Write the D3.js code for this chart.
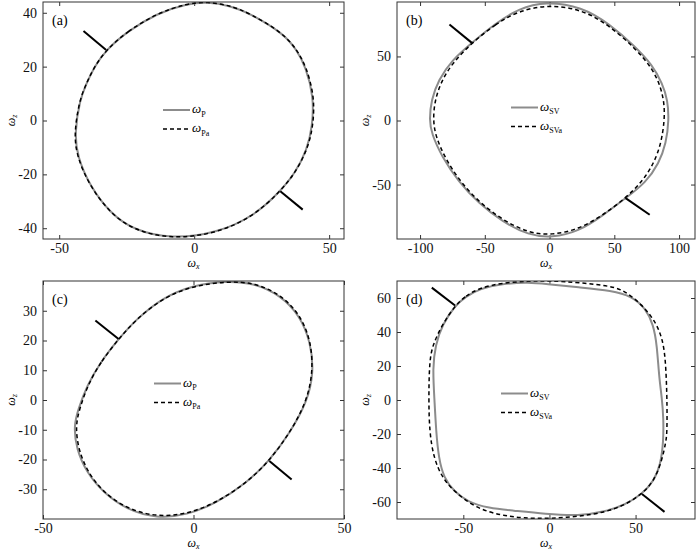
<!DOCTYPE html>
<html>
<head>
<meta charset="utf-8">
<script src="https://cdn.jsdelivr.net/npm/d3@7"></script>
<style>
  body { margin: 0; background: #fff; }
  svg text { font-family: 'Liberation Serif', 'Times New Roman', serif; }
</style>
</head>
<body>
<div id="container"></div>
<script>
const w = 700
const h = 552

// panel (a): omega_P vs omega_Pa
const aLimX = [-56, 55.5]
const aLimY = [-44, 44]
const aTicksX = [-50, 0, 50]
const aTicksY = [-40, -20, 0, 20, 40]
const aP = [[-32.6, 26.2], [-24.9, 33], [-13.8, 39.8], [-2.7, 43.4], [5, 44], [13, 42.7], [20.7, 39.8], [33.1, 32.3], [38, 26.2], [41.3, 20], [44.3, 8.9], [43.8, -2.2], [41.8, -10.9], [37.4, -19.5], [31.9, -26.3], [22, -35.6], [8.4, -41.8], [-8.3, -44], [-22.5, -40.7], [-31.1, -34.4], [-38.6, -24.4], [-43.3, -13.3], [-44.3, -4.7], [-42.4, 7.6], [-39.9, 13.8], [-37, 20]]
const aPa = [[-32.6, 26.2], [-24.9, 33], [-13.8, 39.8], [-2.7, 43.5], [5, 44.1], [13, 42.8], [20.7, 39.8], [33.1, 32.3], [38.1, 26.2], [41.5, 20], [44.6, 8.9], [44.1, -2.2], [41.9, -10.9], [37.4, -19.5], [31.9, -26.3], [22, -35.6], [8.4, -41.9], [-8.3, -44.1], [-22.5, -40.7], [-31.1, -34.4], [-38.7, -24.4], [-43.5, -13.3], [-44.5, -4.7], [-42.5, 7.6], [-39.9, 13.8], [-37, 20]]
const aMarks = [[[-41, 33.2], [-32.6, 26.2]], [[31.9, -26.3], [40.2, -33.1]]]

// panel (b): omega_SV vs omega_SVa
const bLimX = [-117.8, 112.3]
const bLimY = [-92.5, 92.5]
const bTicksX = [-100, -50, 0, 50, 100]
const bTicksY = [-50, 0, 50]
const bSV = [[-60, 60.6], [-41.9, 75.7], [-23.9, 87.4], [-3.3, 93], [25.1, 88.7], [45.8, 75.7], [66.4, 57.5], [79.4, 43.2], [87.1, 29], [91.2, 16], [92.2, 0.4], [90, -17.8], [84.5, -33.4], [74.2, -48.6], [58.7, -60.6], [40.6, -74.6], [22.5, -86.6], [1.9, -91.5], [-16.2, -89.6], [-36.8, -78.8], [-54.9, -64.5], [-70.3, -47.7], [-83.2, -28.2], [-91.2, -10], [-92.8, 0.4], [-91.4, 16], [-85.8, 31.6], [-75.5, 47.1]]
const bSVa = [[-60, 60.6], [-41.9, 75.2], [-23.9, 85.6], [-0.7, 90.5], [25.1, 86.6], [45.8, 74.4], [66.4, 56.2], [79.4, 40.6], [85.8, 26.4], [88.6, 13.4], [88.8, 0.4], [86.2, -17.8], [80.6, -33.4], [71.6, -47.7], [58.7, -60.6], [40.6, -74.4], [22.5, -84.8], [1.9, -89.6], [-16.2, -87.8], [-36.8, -77.5], [-54.9, -63.2], [-69, -47.7], [-80.6, -29.5], [-87.9, -12.6], [-90, 0.4], [-88.6, 16], [-83.2, 31.6], [-74.2, 45.8]]
const bMarks = [[[-77.3, 74.9], [-60, 60.6]], [[58.7, -60.6], [77.3, -73.6]]]

// panel (c): omega_P vs omega_Pa
const cLimX = [-50, 50]
const cLimY = [-40, 40]
const cTicksX = [-50, 0, 50]
const cTicksY = [-30, -20, -10, 0, 10, 20, 30]
const cP = [[-24.9, 20.5], [-31, 12.6], [-35.4, 4.8], [-38.3, -3.1], [-39.8, -8.7], [-38.9, -16.5], [-35.5, -24.4], [-29.9, -31.2], [-22.1, -36.9], [-12.2, -39.8], [-2.2, -38.7], [7.7, -34.6], [17.7, -27.8], [25.2, -20.5], [32.1, -10.9], [37.7, -0.8], [40, 9.3], [38.9, 19.4], [35.4, 28.3], [28.8, 35.3], [19.9, 39.4], [10.5, 40], [0, 38.6], [-10, 34.6], [-19.2, 27]]
const cPa = [[-24.9, 20.5], [-31, 12.6], [-35.2, 4.8], [-37.9, -3.1], [-39.2, -8.7], [-38.3, -16.5], [-35.1, -24.4], [-29.9, -31.1], [-22.1, -36.6], [-12.2, -39.3], [-2.2, -38.4], [7.7, -34.5], [17.7, -27.8], [25.2, -20.5], [32.1, -10.9], [37.5, -0.8], [39.7, 9.3], [39.1, 19.4], [35.7, 28.3], [29.2, 35.3], [20.5, 39.4], [11.5, 39.9], [0, 38.4], [-10, 34.5], [-19.2, 27]]
const cMarks = [[[-32.6, 26.7], [-24.9, 20.5]], [[25.2, -20.5], [32.6, -26.7]]]

// panel (d): omega_SV vs omega_SVa
const dLimX = [-88.5, 84.5]
const dLimY = [-70, 70]
const dTicksX = [-50, 0, 50]
const dTicksY = [-60, -40, -20, 0, 20, 40, 60]
const dSV = [[-54.8, 55.6], [-48.6, 60.8], [-40.9, 65.3], [-27.4, 68.5], [-12, 69.2], [-2.3, 68.3], [17, 66.3], [36.3, 64.4], [47.9, 61], [55.6, 54.2], [60.4, 44.2], [62.4, 32.4], [63.7, 12.9], [65.3, 1.1], [66.2, -10.6], [66.2, -24.3], [64.5, -38.1], [60.6, -47.8], [53.7, -55.3], [44, -61.7], [32.4, -65.7], [17, -68.2], [-2.3, -67], [-21.6, -65], [-35.1, -63.7], [-47.7, -59.8], [-55.4, -53.7], [-61.3, -45.9], [-64.3, -34.1], [-65.8, -18.4], [-66.8, 1.1], [-67.8, 18.7], [-66.2, 32.4], [-62.3, 44.2]]
const dSVa = [[-54.8, 55.6], [-48.6, 61.2], [-40.9, 65.8], [-27.4, 69], [-12, 69.9], [0, 70.2], [17, 69.1], [36.3, 67], [44, 64], [53.7, 56.1], [61.4, 46.4], [65.5, 36.4], [67.4, 24.6], [68.3, 1.1], [68.3, -18.4], [67.7, -24.3], [65.2, -36], [60.6, -47.8], [53.7, -55.3], [44, -61.7], [32.4, -66], [17, -68.5], [0, -69.8], [-15, -69.5], [-27.4, -68], [-42.8, -63.7], [-55.4, -53.7], [-62.2, -45.9], [-67.2, -34.1], [-69.7, -18.4], [-70.1, 1.1], [-69.7, 22.7], [-67.8, 32.4], [-62.3, 44.2]]
const dMarks = [[[-68.3, 66.1], [-54.8, 55.6]], [[53.7, -55.3], [66.8, -65.8]]]

const panels = [
  { tag: '(a)', box: [43, 2, 344, 239], limX: aLimX, limY: aLimY, ticksX: aTicksX, ticksY: aTicksY, solid: aP, dashed: aPa, marks: aMarks, names: ['P', 'Pa'], leg: [120, 108] },
  { tag: '(b)', box: [397, 2, 695, 239], limX: bLimX, limY: bLimY, ticksX: bTicksX, ticksY: bTicksY, solid: bSV, dashed: bSVa, marks: bMarks, names: ['SV', 'SVa'], leg: [114, 105.5] },
  { tag: '(c)', box: [43, 281, 344, 519], limX: cLimX, limY: cLimY, ticksX: cTicksX, ticksY: cTicksY, solid: cP, dashed: cPa, marks: cMarks, names: ['P', 'Pa'], leg: [111, 102.5] },
  { tag: '(d)', box: [397, 281, 695, 519], limX: dLimX, limY: dLimY, ticksX: dTicksX, ticksY: dTicksY, solid: dSV, dashed: dSVa, marks: dMarks, names: ['SV', 'SVa'], leg: [104, 112.5] }
]

var svg = d3.select('div#container')
  .append('svg')
  .attr('width', w)
  .attr('height', h)
  .attr('viewBox', '0 0 ' + w + ' ' + h)

const fmt = d => String(d)

// omega with a subscript, written as tspans
function omega(sel, sub, shift, subSize, subItalic) {
  sel.append('tspan').style('font-style', 'italic').text('ω')
  sel.append('tspan')
    .attr('dy', shift)
    .style('font-size', subSize + 'px')
    .style('font-style', subItalic ? 'italic' : 'normal')
    .text(sub)
}

panels.forEach((p, i) => {
  const [x0, y0, x1, y1] = p.box
  const pw = x1 - x0
  const ph = y1 - y0
  const g = svg.append('g').attr('transform', 'translate(' + x0 + ',' + y0 + ')')

  const x = d3.scaleLinear().domain(p.limX).range([0, pw])
  const y = d3.scaleLinear().domain(p.limY).range([ph, 0])

  const axes = [
    g.append('g').attr('transform', 'translate(0,' + ph + ')')
      .call(d3.axisBottom(x).tickValues(p.ticksX).tickSizeInner(-4).tickSizeOuter(0).tickPadding(4).tickFormat(fmt)),
    g.append('g')
      .call(d3.axisTop(x).tickValues(p.ticksX).tickSizeInner(-4).tickSizeOuter(0).tickFormat('')),
    g.append('g')
      .call(d3.axisLeft(y).tickValues(p.ticksY).tickSizeInner(-4).tickSizeOuter(0).tickPadding(6).tickFormat(fmt)),
    g.append('g').attr('transform', 'translate(' + pw + ',0)')
      .call(d3.axisRight(y).tickValues(p.ticksY).tickSizeInner(-4).tickSizeOuter(0).tickFormat(''))
  ]
  axes.forEach(a => {
    a.attr('font-family', null).attr('font-size', null)
    a.select('.domain').remove()
    a.selectAll('line').attr('stroke', '#333')
    a.selectAll('text').style('font-size', '14px').attr('fill', '#111')
  })

  const clipId = 'clip' + i
  g.append('clipPath').attr('id', clipId)
    .append('rect').attr('width', pw).attr('height', ph)

  const line = d3.line()
    .x(d => x(d[0]))
    .y(d => y(d[1]))
    .curve(d3.curveBasisClosed)

  const plot = g.append('g').attr('clip-path', 'url(#' + clipId + ')')

  plot.append('path')
    .attr('d', line(p.solid))
    .attr('fill', 'none')
    .attr('stroke', '#8c8c8c')
    .attr('stroke-width', 2)

  plot.append('path')
    .attr('d', line(p.dashed))
    .attr('fill', 'none')
    .attr('stroke', '#000')
    .attr('stroke-width', 1.5)
    .attr('stroke-dasharray', '4,3')

  plot.selectAll('line.mark')
    .data(p.marks)
    .enter().append('line')
    .attr('class', 'mark')
    .attr('x1', d => x(d[0][0]))
    .attr('y1', d => y(d[0][1]))
    .attr('x2', d => x(d[1][0]))
    .attr('y2', d => y(d[1][1]))
    .attr('stroke', '#000')
    .attr('stroke-width', 2)

  g.append('rect')
    .attr('width', pw)
    .attr('height', ph)
    .attr('fill', 'none')
    .attr('stroke', '#333')
    .attr('stroke-width', 1)

  g.append('text')
    .attr('x', 9)
    .attr('y', 23)
    .style('font-size', '14px')
    .text(p.tag)

  // legend
  const leg = g.append('g').attr('transform', 'translate(' + p.leg[0] + ',' + p.leg[1] + ')')
  leg.append('line').attr('x1', 0).attr('x2', 27).attr('y1', 0).attr('y2', 0)
    .attr('stroke', '#8c8c8c').attr('stroke-width', 2)
  leg.append('line').attr('x1', 0).attr('x2', 27).attr('y1', 19).attr('y2', 19)
    .attr('stroke', '#000').attr('stroke-width', 1.5).attr('stroke-dasharray', '4,3')
  leg.append('text').attr('x', 29).attr('y', 3).style('font-size', '13px')
    .call(omega, p.names[0], 3.5, 8, false)
  leg.append('text').attr('x', 29).attr('y', 22).style('font-size', '13px')
    .call(omega, p.names[1], 3.5, 8, false)

  // axis titles
  g.append('text')
    .attr('x', pw / 2)
    .attr('y', ph + 28)
    .attr('text-anchor', 'middle')
    .style('font-size', '12px')
    .call(omega, 'x', 2, 8, true)

  g.append('text')
    .attr('transform', 'translate(' + (-28) + ',' + (ph / 2) + ') rotate(-90)')
    .attr('text-anchor', 'middle')
    .style('font-size', '12px')
    .call(omega, 'z', 2, 8, true)
})
</script>
</body>
</html>
